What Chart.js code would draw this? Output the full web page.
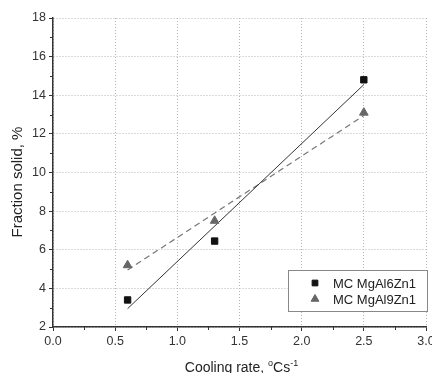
<!DOCTYPE html>
<html>
<head>
<meta charset="utf-8">
<script src="https://cdn.jsdelivr.net/npm/chart.js@4.4.1/dist/chart.umd.min.js"></script>
<style>
  html, body { margin: 0; padding: 0; background: #fff; }
  #wrap { width: 432px; height: 373px; }
</style>
</head>
<body>
<div id="wrap"><canvas id="fractionChart" width="432" height="373"></canvas></div>
<script>
// データ
const coolingRates = [0.6, 1.3, 2.5];
const mgAl6Zn1 = [3.4, 6.45, 14.8];
const mgAl9Zn1 = [5.2, 7.5, 13.1];
const fitX = [0.6, 2.5];
const fit6Zn1 = [2.95, 14.55];
const fit9Zn1 = [4.95, 12.95];
const seriesNames = ["MC MgAl6Zn1", "MC MgAl9Zn1"];
const xMinorTicks = [0.25, 0.75, 1.25, 1.75, 2.25, 2.75];
const yMinorTicks = [3, 5, 7, 9, 11, 13, 15, 17];
const xTitle = ["Cooling rate, ", "o", "Cs", "-1"];
const yTitle = "Fraction solid, %";

const FONT = "'Liberation Sans', Arial, sans-serif";

function toPoints(xs, ys) {
  return xs.map((x, i) => ({ x: x, y: ys[i] }));
}

// 副目盛り・軸タイトル・凡例を描くプラグイン
const extrasPlugin = {
  id: "extras",
  afterDraw(chart) {
    const ctx = chart.ctx;
    const xs = chart.scales.x;
    const ys = chart.scales.y;
    const area = chart.chartArea;
    ctx.save();
    ctx.strokeStyle = "#333";
    ctx.lineWidth = 1;
    ctx.beginPath();
    xMinorTicks.forEach((v) => {
      const px = Math.round(xs.getPixelForValue(v)) + 0.5;
      ctx.moveTo(px, area.bottom);
      ctx.lineTo(px, area.bottom + 3);
    });
    yMinorTicks.forEach((v) => {
      const py = Math.round(ys.getPixelForValue(v)) + 0.5;
      ctx.moveTo(area.left, py);
      ctx.lineTo(area.left - 3, py);
    });
    ctx.stroke();

    // 縦軸タイトル
    ctx.fillStyle = "#222";
    ctx.textBaseline = "middle";
    ctx.textAlign = "center";
    ctx.font = "15px " + FONT;
    ctx.save();
    ctx.translate(18, 182);
    ctx.rotate(-Math.PI / 2);
    ctx.fillText(yTitle, 0, 0);
    ctx.restore();

    // 横軸タイトル（上付き文字つき）
    const big = "14px " + FONT;
    const small = "9px " + FONT;
    ctx.textAlign = "left";
    ctx.textBaseline = "alphabetic";
    const parts = [
      { t: xTitle[0], f: big, dy: 0 },
      { t: xTitle[1], f: small, dy: -6 },
      { t: xTitle[2], f: big, dy: 0 },
      { t: xTitle[3], f: small, dy: -6 },
    ];
    let total = 0;
    parts.forEach((p) => { ctx.font = p.f; total += ctx.measureText(p.t).width; });
    let tx = (area.left + area.right) / 2 + 2 - total / 2;
    const baseY = 372;
    parts.forEach((p) => {
      ctx.font = p.f;
      ctx.fillText(p.t, tx, baseY + p.dy);
      tx += ctx.measureText(p.t).width;
    });

    // 凡例
    const boxL = 288, boxT = 270, boxW = 139, boxH = 41;
    ctx.fillStyle = "#fff";
    ctx.fillRect(boxL, boxT, boxW, boxH);
    ctx.strokeStyle = "#888";
    ctx.lineWidth = 1;
    ctx.strokeRect(boxL + 0.5, boxT + 0.5, boxW, boxH);
    ctx.font = "13px " + FONT;
    ctx.textBaseline = "middle";
    ctx.textAlign = "left";
    [0, 1].forEach((i) => {
      const ds = chart.data.datasets[i];
      const cy = boxT + 13 + i * 16;
      ctx.fillStyle = ds.backgroundColor;
      ctx.strokeStyle = ds.borderColor;
      Chart.helpers.drawPoint(ctx, {
        pointStyle: ds.pointStyle,
        radius: ds.pointRadius * 0.9,
        borderWidth: 1,
        rotation: 0,
      }, 315, cy);
      ctx.fillStyle = "#222";
      ctx.fillText(seriesNames[i], 333, cy + 1);
    });
    ctx.restore();
  },
};

const ctx = document.getElementById("fractionChart").getContext("2d");
new Chart(ctx, {
  type: "scatter",
  data: {
    datasets: [
      {
        label: seriesNames[0],
        data: toPoints(coolingRates, mgAl6Zn1),
        pointStyle: "rect",
        pointRadius: 4.5,
        backgroundColor: "#111",
        borderColor: "#111",
        borderWidth: 1,
        showLine: false,
      },
      {
        label: seriesNames[1],
        data: toPoints(coolingRates, mgAl9Zn1),
        pointStyle: "triangle",
        pointRadius: 5,
        backgroundColor: "#666",
        borderColor: "#666",
        borderWidth: 1,
        showLine: false,
      },
      {
        label: "fit6",
        data: toPoints(fitX, fit6Zn1),
        showLine: true,
        pointRadius: 0,
        borderColor: "#333",
        borderWidth: 1,
        fill: false,
      },
      {
        label: "fit9",
        data: toPoints(fitX, fit9Zn1),
        showLine: true,
        pointRadius: 0,
        borderColor: "#777",
        borderWidth: 1.2,
        borderDash: [6, 4],
        fill: false,
      },
    ],
  },
  options: {
    responsive: false,
    animation: false,
    devicePixelRatio: 1,
    layout: { padding: { top: 18, right: 3, left: 0, bottom: 0 } },
    plugins: {
      legend: { display: false },
      tooltip: { enabled: false },
    },
    scales: {
      x: {
        type: "linear",
        min: 0,
        max: 3,
        afterFit(scale) {
          scale.height = 46;
          scale.paddingLeft = 0;
          scale.paddingRight = 0;
        },
        ticks: {
          stepSize: 0.5,
          color: "#333",
          font: { size: 12.5, family: FONT },
          padding: 3,
          maxRotation: 0,
          callback: (v) => v.toFixed(1),
        },
        grid: {
          color: "#b4b4b4",
          lineWidth: 1,
          tickLength: 4,
          tickColor: "#333",
        },
        border: { color: "#333", width: 1.5, dash: [1, 2] },
      },
      y: {
        type: "linear",
        min: 2,
        max: 18,
        afterFit(scale) {
          scale.width = 53;
          scale.paddingTop = 0;
          scale.paddingBottom = 0;
        },
        ticks: {
          stepSize: 2,
          color: "#333",
          font: { size: 12.5, family: FONT },
          padding: 3,
        },
        grid: {
          color: "#b4b4b4",
          lineWidth: 1,
          tickLength: 4,
          tickColor: "#333",
        },
        border: { color: "#333", width: 1.5, dash: [1, 2] },
      },
    },
  },
  plugins: [extrasPlugin],
});
</script>
</body>
</html>
